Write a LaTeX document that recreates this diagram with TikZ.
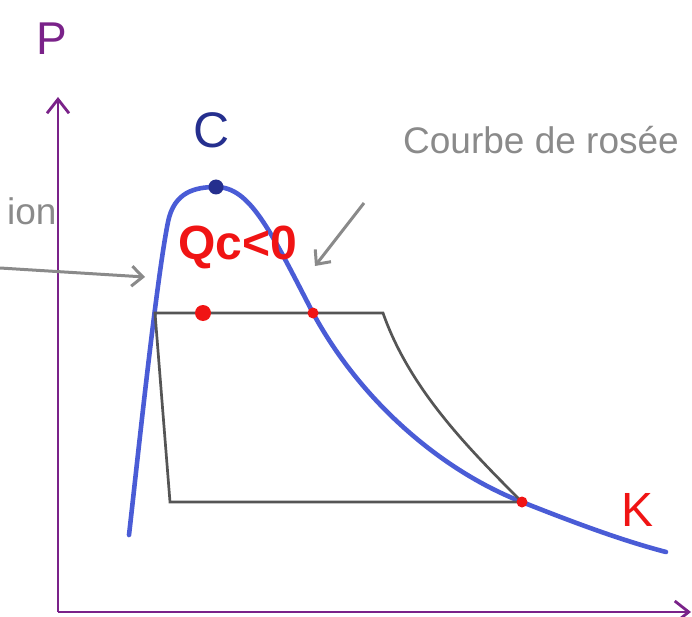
\documentclass[tikz,border=0pt]{standalone}
\usepackage{fontspec}
\setmainfont{Liberation Sans}
\usetikzlibrary{arrows.meta}
\definecolor{axispurple}{HTML}{7A2289}
\definecolor{curveblue}{HTML}{4A5CD6}
\definecolor{navy}{HTML}{252F8E}
\definecolor{cyclegray}{HTML}{555555}
\definecolor{labgray}{HTML}{8A8A8A}
\definecolor{hotred}{HTML}{F01414}
\tikzset{
  axisline/.style={draw=axispurple, line width=2.8pt, -{Straight Barb[length=14pt,width=22pt,line width=2.8pt]}},
  satcurve/.style={draw=curveblue, line width=4.6pt},
  cycleline/.style={draw=cyclegray, line width=2.7pt, line join=miter},
  grayarrow/.style={draw=labgray, line width=3pt, -{Straight Barb[length=11pt,width=20pt,line width=3pt]}},
  graylabel/.style={text=labgray, inner sep=0pt, font=\fontsize{37}{40}\selectfont},
  reddot/.style={circle, fill=hotred, inner sep=0pt},
}
\begin{document}
\begin{tikzpicture}[x=1pt,y=-1pt]
\useasboundingbox (0,0) rectangle (692,617);
% axes
\coordinate (O) at (58,612);
\coordinate (Ptip) at (58,97);
\coordinate (Xtip) at (691,612);
\draw[axisline] (O) -- (Ptip);
\draw[axisline] (O) -- (Xtip);
\node[text=axispurple, inner sep=0pt, font=\fontsize{46}{48}\selectfont] (Plab) at (52,39) {P};
% saturation curve
\coordinate (c0) at (129,535);
\coordinate (c1) at (168,222);
\coordinate (Ct) at (216,187);
\coordinate (c3) at (313,313);
\coordinate (Kp) at (522,502);
\coordinate (c5) at (666,552);
\draw[satcurve, line cap=round] (c0) .. controls (137,465) and (156,282) .. (c1)
  .. controls (174,192) and (195,187) .. (Ct)
  .. controls (250,187) and (270,230) .. (c3)
  .. controls (360,400) and (440,470) .. (Kp)
  .. controls (570,521) and (620,540) .. (c5);
% cycle
\coordinate (a1) at (155,313);
\coordinate (a2) at (383,313);
\coordinate (a3) at (170,502);
\draw[cycleline] (a3) -- (a1) -- (a2) .. controls (410,390) and (470,450) .. (Kp) -- cycle;
% dots
\node[circle, fill=navy, inner sep=0pt, minimum size=15pt] (Cdot) at (Ct) {};
\node[reddot, minimum size=16pt] (m1) at (203,313) {};
\node[reddot, minimum size=11pt] (m2) at (c3) {};
\node[reddot, minimum size=11pt] (m3) at (Kp) {};
% labels
\node[text=navy, inner sep=0pt, font=\fontsize{50}{54}\selectfont] (Clab) at (212,130) {C};
\node[text=hotred, inner sep=0pt, font=\fontsize{48}{52}\selectfont] (Klab) at (637,510) {K};
\node[text=hotred, inner sep=0pt, anchor=base, font=\bfseries\fontsize{48}{52}\selectfont] (Qc) at (238,259) {Qc<0};
\node[graylabel, anchor=base] (rosee) at (541,154) {Courbe de rosée};
\node[graylabel, anchor=base west] (ebul) at (7,225) {ion};
% pointer arrows
\coordinate (eS) at (0,268);
\coordinate (eT) at (145,277);
\draw[grayarrow] (eS) -- (eT);
\coordinate (rS) at (364,203);
\coordinate (rT) at (315,266);
\draw[grayarrow] (rS) -- (rT);
\end{tikzpicture}
\end{document}
